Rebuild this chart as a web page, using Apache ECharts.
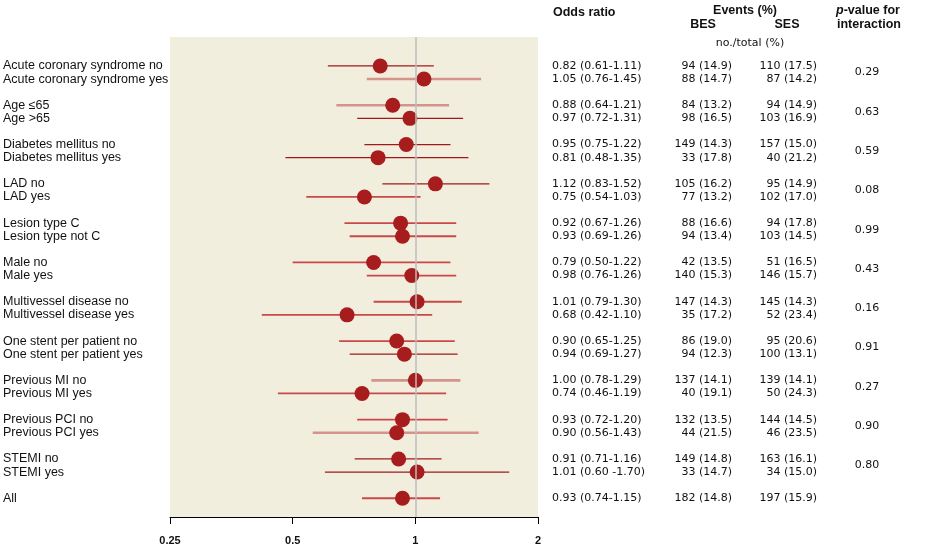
<!DOCTYPE html>
<html>
<head>
<meta charset="utf-8">
<script src="https://cdn.jsdelivr.net/npm/echarts@6/dist/echarts.min.js"></script>
<style>
  html, body { margin: 0; background: #fff; }
  #chart { width: 932px; height: 547px; }
</style>
</head>
<body>
<div id="chart"></div>
<script>
  // rows of the forest plot, top to bottom
  var rowLabels = [
    'Acute coronary syndrome no', 'Acute coronary syndrome yes',
    'Age \u226465', 'Age >65',
    'Diabetes mellitus no', 'Diabetes mellitus yes',
    'LAD no', 'LAD yes',
    'Lesion type C', 'Lesion type not C',
    'Male no', 'Male yes',
    'Multivessel disease no', 'Multivessel disease yes',
    'One stent per patient no', 'One stent per patient yes',
    'Previous MI no', 'Previous MI yes',
    'Previous PCI no', 'Previous PCI yes',
    'STEMI no', 'STEMI yes',
    'All'
  ];
  var oddsRatio = [0.82, 1.05, 0.88, 0.97, 0.95, 0.81, 1.12, 0.75, 0.92, 0.93, 0.79, 0.98,
                   1.01, 0.68, 0.90, 0.94, 1.00, 0.74, 0.93, 0.90, 0.91, 1.01, 0.93];
  var ciLow = [0.61, 0.76, 0.64, 0.72, 0.75, 0.48, 0.83, 0.54, 0.67, 0.69, 0.50, 0.76,
               0.79, 0.42, 0.65, 0.69, 0.78, 0.46, 0.72, 0.56, 0.71, 0.60, 0.74];
  var ciHigh = [1.11, 1.45, 1.21, 1.31, 1.22, 1.35, 1.52, 1.03, 1.26, 1.26, 1.22, 1.26,
                1.30, 1.10, 1.25, 1.27, 1.29, 1.19, 1.20, 1.43, 1.16, 1.70, 1.15];
  var orText = [
    '0.82 (0.61-1.11)', '1.05 (0.76-1.45)', '0.88 (0.64-1.21)', '0.97 (0.72-1.31)',
    '0.95 (0.75-1.22)', '0.81 (0.48-1.35)', '1.12 (0.83-1.52)', '0.75 (0.54-1.03)',
    '0.92 (0.67-1.26)', '0.93 (0.69-1.26)', '0.79 (0.50-1.22)', '0.98 (0.76-1.26)',
    '1.01 (0.79-1.30)', '0.68 (0.42-1.10)', '0.90 (0.65-1.25)', '0.94 (0.69-1.27)',
    '1.00 (0.78-1.29)', '0.74 (0.46-1.19)', '0.93 (0.72-1.20)', '0.90 (0.56-1.43)',
    '0.91 (0.71-1.16)', '1.01 (0.60 -1.70)', '0.93 (0.74-1.15)'
  ];
  var besEvents = ['94 (14.9)', '88 (14.7)', '84 (13.2)', '98 (16.5)', '149 (14.3)', '33 (17.8)',
                   '105 (16.2)', '77 (13.2)', '88 (16.6)', '94 (13.4)', '42 (13.5)', '140 (15.3)',
                   '147 (14.3)', '35 (17.2)', '86 (19.0)', '94 (12.3)', '137 (14.1)', '40 (19.1)',
                   '132 (13.5)', '44 (21.5)', '149 (14.8)', '33 (14.7)', '182 (14.8)'];
  var sesEvents = ['110 (17.5)', '87 (14.2)', '94 (14.9)', '103 (16.9)', '157 (15.0)', '40 (21.2)',
                   '95 (14.9)', '102 (17.0)', '94 (17.8)', '103 (14.5)', '51 (16.5)', '146 (15.7)',
                   '145 (14.3)', '52 (23.4)', '95 (20.6)', '100 (13.1)', '139 (14.1)', '50 (24.3)',
                   '144 (14.5)', '46 (23.5)', '163 (16.1)', '34 (15.0)', '197 (15.9)'];
  // one p-value per pair of rows
  var pInteraction = ['0.29', '0.63', '0.59', '0.08', '0.99', '0.43', '0.16', '0.91', '0.27', '0.90', '0.80'];
  var xTicks = [0.25, 0.5, 1, 2];

  // line shade of each CI bar (style, not data)
  var rowShade = ['dark', 'light', 'light', 'dark', 'dark', 'dark', 'dark', 'mid', 'mid', 'mid', 'mid', 'mid',
                  'mid', 'mid', 'mid', 'dark', 'light', 'mid', 'mid', 'light', 'dark', 'dark', 'mid'];
  var shades = {
    dark: { color: '#9f1a1b', width: 1.3 },
    mid: { color: '#c9494b', width: 1.8 },
    light: { color: '#d4938b', width: 2.6 }
  };

  // pairs sit 1 unit apart, groups 3 units apart
  function rowPos(i) {
    return i < 22 ? Math.floor(i / 2) * 3 + (i % 2) : 33;
  }
  var Y_MIN = -2.21, Y_MAX = 34.43;
  var TEXT_FONT = 'DejaVu Sans';
  var LABEL_FONT = 'Liberation Sans';
  var HEAD_FONT = 'bold 12.5px "Liberation Sans"';

  var rowValues = rowLabels.map(function (l, i) { return rowPos(i); });
  var pValues = pInteraction.map(function (p, g) { return g * 3 + 0.5; });

  function textAxis(values, texts, position, margin, align, font, size) {
    var lookup = {};
    values.forEach(function (v, i) { lookup[v.toFixed(1)] = texts[i]; });
    return {
      type: 'value', gridIndex: 0, inverse: true, min: Y_MIN, max: Y_MAX, position: position,
      axisLine: { show: false }, axisTick: { show: false }, splitLine: { show: false },
      axisLabel: {
        customValues: values, margin: margin, align: align,
        color: '#111', fontFamily: font, fontSize: size,
        formatter: function (v) { return lookup[v.toFixed(1)] || ''; }
      }
    };
  }

  function head(text, x, y, align) {
    return {
      type: 'text',
      style: {
        text: text, x: x, y: y, textAlign: align, align: align,
        textVerticalAlign: 'middle', verticalAlign: 'middle', font: HEAD_FONT, fill: '#111',
        rich: { i: { fontStyle: 'italic', fontWeight: 'bold', fontSize: 12.5, fontFamily: 'Liberation Sans' } }
      }
    };
  }

  var chart = echarts.init(document.getElementById('chart'));
  chart.setOption({
    animation: false,
    grid: {
      left: 168, right: 394, top: 37, bottom: 30,
      show: true, backgroundColor: '#f2eedd', borderWidth: 0
    },
    xAxis: {
      type: 'log', logBase: 2, min: 0.25, max: 2,
      axisLine: { onZero: false, lineStyle: { color: '#000', width: 1 } },
      axisTick: { length: 7, lineStyle: { color: '#000' } },
      splitLine: { show: false },
      axisLabel: {
        customValues: xTicks, margin: 18, color: '#111',
        fontFamily: 'Liberation Sans', fontWeight: 'bold', fontSize: 11,
        formatter: function (v) { return String(v); }
      }
    },
    yAxis: [
      { type: 'value', inverse: true, min: Y_MIN, max: Y_MAX, show: false },
      textAxis(rowValues, rowLabels, 'left', 167, 'left', LABEL_FONT, 12.5),
      textAxis(rowValues, orText, 'right', 14, 'left', TEXT_FONT, 11),
      textAxis(rowValues, besEvents, 'right', 194, 'right', TEXT_FONT, 11),
      textAxis(rowValues, sesEvents, 'right', 279, 'right', TEXT_FONT, 11),
      textAxis(pValues, pInteraction, 'right', 329, 'center', TEXT_FONT, 11)
    ],
    graphic: [
      head('Odds ratio', 553, 13, 'left'),
      head('Events (%)', 745, 11, 'center'),
      head('BES', 703, 24.5, 'center'),
      head('SES', 787, 24.5, 'center'),
      head('{i|p}-value for', 836, 11, 'left'),
      head('interaction', 837, 24.5, 'left'),
      { type: 'text', style: { text: 'no./total (%)', x: 750, y: 43, textAlign: 'center', align: 'center', textVerticalAlign: 'middle', verticalAlign: 'middle', font: '11px "DejaVu Sans"', fill: '#111' } }
    ],
    series: [
      {
        name: 'ci', type: 'custom', z: 2,
        encode: { x: [0, 1], y: 2 },
        data: rowLabels.map(function (l, i) { return [ciLow[i], ciHigh[i], rowPos(i)]; }),
        renderItem: function (params, api) {
          var a = api.coord([api.value(0), api.value(2)]);
          var b = api.coord([api.value(1), api.value(2)]);
          var s = shades[rowShade[params.dataIndex]];
          return {
            type: 'line',
            shape: { x1: a[0], y1: a[1], x2: b[0], y2: b[1] },
            style: { stroke: s.color, lineWidth: s.width }
          };
        },
        markLine: {
          silent: true, symbol: ['none', 'none'], label: { show: false },
          lineStyle: { color: '#bcbcbc', width: 1.5, type: 'solid' },
          data: [{ xAxis: 1 }]
        }
      },
      {
        name: 'or', type: 'scatter', z: 3,
        symbolSize: 15,
        itemStyle: { color: '#a71c1c', opacity: 1 },
        data: rowLabels.map(function (l, i) { return [oddsRatio[i], rowPos(i)]; })
      }
    ]
  });
</script>
</body>
</html>
